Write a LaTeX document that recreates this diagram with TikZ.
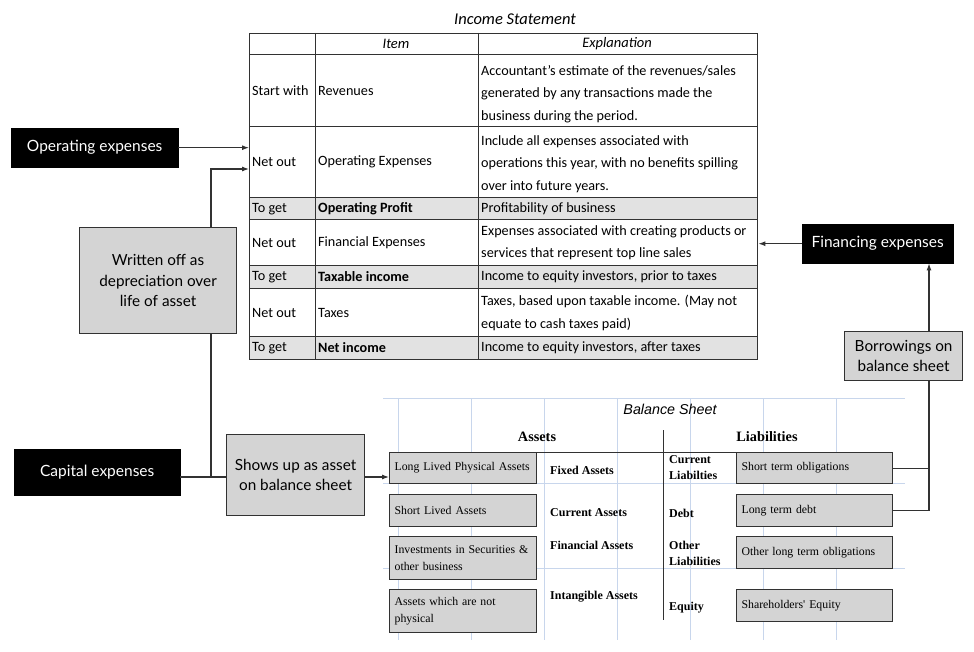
\documentclass[tikz,border=0pt]{standalone}
\usepackage{fontspec}
\setmainfont{Carlito}
\newfontfamily\boxfont{Lato}
\newfontfamily\bsfont{Liberation Serif}
\newfontfamily\bstitlefont{Liberation Sans}
\usetikzlibrary{arrows.meta}
\definecolor{boxgray}{RGB}{212,212,212}
\definecolor{rowgray}{RGB}{226,226,226}
\definecolor{edge}{RGB}{50,50,50}
\definecolor{gridblue}{RGB}{200,214,236}
\begin{document}
\begin{tikzpicture}[x=1pt,y=-1pt,
  arr/.style={-{Latex[length=7pt,width=5pt]}, draw=edge, line width=1.1pt},
  conn/.style={draw=edge, line width=1.1pt},
  blackbox/.style={fill=black, draw=black, text=white, font=\boxfont\fontsize{15.5}{18}\selectfont, inner sep=0pt, anchor=north west, align=center},
  graybox/.style={fill=boxgray, draw=edge, line width=1.2pt, font=\boxfont\fontsize{15.3}{20.5}\selectfont, inner sep=0pt, anchor=north west, align=center},
  bsbox/.style={fill=boxgray, draw=edge, line width=1.2pt, font=\bsfont\fontsize{11.8}{16.5}\selectfont, inner xsep=5pt, inner ysep=0pt, anchor=north west, align=left},
  bslab/.style={font=\bsfont\bfseries\fontsize{12}{16}\selectfont, inner sep=0pt, anchor=west, align=left},
  cell/.style={font=\fontsize{14.2}{22.3}\selectfont, inner sep=0pt, anchor=west, align=left},
  bcell/.style={cell, font=\bfseries\fontsize{14.2}{22.3}\selectfont},
  tline/.style={draw=edge, line width=1pt}
]
\useasboundingbox[fill=white] (0,0) rectangle (974,652);

% ---------------- Income statement ----------------
\node[font=\itshape\fontsize{16.5}{18}\selectfont, inner sep=0pt] (istitle) at (515,19) {Income Statement};
\fill[rowgray] (249,198) rectangle (757,220);
\fill[rowgray] (249,266) rectangle (757,288);
\fill[rowgray] (249,336) rectangle (757,359);
\foreach \yy in {55,127,198,220,266,288,336} {\draw[tline] (249,\yy) -- (757,\yy);}
\draw[tline] (315,33) -- (315,359);
\draw[tline] (478,33) -- (478,359);
\node[draw=edge, line width=1.4pt, minimum width=508pt, minimum height=326pt, inner sep=0pt, anchor=north west] (tbl) at (249,33) {};

\node[font=\itshape\fontsize{14.5}{16}\selectfont, inner sep=0pt] (hitem) at (396,44) {Item};
\node[font=\itshape\fontsize{14.5}{16}\selectfont, inner sep=0pt] (hexpl) at (617,44) {Explanation};

\node[cell] (c1a) at (252,91) {Start with};
\node[cell] (c2a) at (318,91) {Revenues};
\node[cell] (c3a) at (481,94) {Accountant's estimate of the revenues/sales\\generated by any transactions made the\\business during the period.};

\node[cell] (c1b) at (252,162) {Net out};
\node[cell] (c2b) at (318,162) {Operating Expenses};
\node[cell] (c3b) at (481,164) {Include all expenses associated with\\operations this year, with no benefits spilling\\over into future years.};

\node[cell] (c1c) at (252,209) {To get};
\node[bcell] (c2c) at (318,209) {Operating Profit};
\node[cell] (c3c) at (481,209) {Profitability of business};

\node[cell] (c1d) at (252,243) {Net out};
\node[cell] (c2d) at (318,243) {Financial Expenses};
\node[cell] (c3d) at (481,243) {Expenses associated with creating products or\\services that represent top line sales};

\node[cell] (c1e) at (252,277) {To get};
\node[bcell] (c2e) at (318,277) {Taxable income};
\node[cell] (c3e) at (481,277) {Income to equity investors, prior to taxes};

\node[cell] (c1f) at (252,313) {Net out};
\node[cell] (c2f) at (318,313) {Taxes};
\node[cell] (c3f) at (481,313) {Taxes, based upon taxable income. (May not\\equate to cash taxes paid)};

\node[cell] (c1g) at (252,348) {To get};
\node[bcell] (c2g) at (318,348) {Net income};
\node[cell] (c3g) at (481,348) {Income to equity investors, after taxes};

% ---------------- Balance sheet grid ----------------
\foreach \xx in {398,471,544,617,690,763,836} {\draw[gridblue, line width=0.8pt] (\xx,398) -- (\xx,640);}
\foreach \yy in {398,483,568} {\draw[gridblue, line width=0.8pt] (383,\yy) -- (905,\yy);}
\node[font=\bstitlefont\itshape\fontsize{14.3}{16}\selectfont, inner sep=0pt] (bstitle) at (670,409) {Balance Sheet};
\node[font=\bsfont\bfseries\fontsize{14.3}{16}\selectfont, inner sep=0pt] (assets) at (537,437) {Assets};
\node[font=\bsfont\bfseries\fontsize{14.3}{16}\selectfont, inner sep=0pt] (liabs) at (767,437) {Liabilities};
\draw[edge, line width=1pt] (663,430) -- (663,620);
\draw[edge, line width=1pt] (390,452) -- (892,452);

\node[bsbox, text width=137pt, minimum height=31pt] (ll) at (389,452) {\mbox{Long Lived Physical Assets}};
\node[bsbox, text width=137pt, minimum height=32pt] (sl) at (389,494) {\mbox{Short Lived Assets}};
\node[bsbox, text width=137pt, minimum height=43pt] (inv) at (389,536) {\mbox{Investments in Securities \&}\\\mbox{other business}};
\node[bsbox, text width=137pt, minimum height=43pt] (np) at (389,589) {\mbox{Assets which are not}\\\mbox{physical}};

\node[bsbox, text width=146pt, minimum height=31pt] (st) at (736,452) {\mbox{Short term obligations}};
\node[bsbox, text width=146pt, minimum height=32pt] (ltd) at (736,494) {\mbox{Long term debt}};
\node[bsbox, text width=146pt, minimum height=32pt] (olt) at (736,536) {\mbox{Other long term obligations}};
\node[bsbox, text width=146pt, minimum height=32pt] (she) at (736,589) {\mbox{Shareholders' Equity}};

\node[bslab] (fa) at (550,470) {Fixed Assets};
\node[bslab] (ca) at (550,513) {Current Assets};
\node[bslab] (fin) at (550,545) {Financial Assets};
\node[bslab] (ia) at (550,597) {Intangible Assets};
\node[bslab] (cl) at (669,468) {Current\\Liabilties};
\node[bslab] (dbt) at (669,513) {Debt};
\node[bslab] (ol) at (669,553) {Other\\Liabilities};
\node[bslab] (eq) at (669,608) {Equity};

% ---------------- Left side ----------------
\coordinate (j) at (211,477);
\coordinate (dep) at (249,169);
\draw[arr] (j) |- (dep);

\node[blackbox, minimum width=167pt, minimum height=39pt] (opx) at (11,128) {Operating expenses};
\draw[arr] (opx.east) -- (tbl.west |- opx.east);

\node[graybox, minimum width=157pt, minimum height=106pt] (wr) at (79,227) {Written off as\\depreciation over\\life of asset};

\node[blackbox, minimum width=166pt, minimum height=46pt] (cap) at (14,449) {Capital expenses};
\node[graybox, minimum width=138pt, minimum height=81pt, font=\boxfont\fontsize{15.3}{20}\selectfont] (shows) at (226,434) {Shows up as asset\\on balance sheet};
\draw[conn] (cap.east |- j) -- (shows.west |- j);
\draw[arr] (shows.east |- j) -- (ll.west |- j);

% ---------------- Right side ----------------
\node[blackbox, minimum width=151pt, minimum height=39pt] (finx) at (802,224) {Financing expenses};
\draw[arr] (finx.west) -- (tbl.east |- finx.west);

\coordinate (k) at (929,465);
\node[graybox, minimum width=118pt, minimum height=49pt, font=\boxfont\fontsize{15.3}{20}\selectfont] (bor) at (844,331) {Borrowings on\\balance sheet};
\draw[arr] (bor.north -| k) -- (finx.south -| k);
\draw[conn] (st.east) -- (st.east -| k);
\draw[conn] (ltd.east) -| (bor.south -| k);
\end{tikzpicture}
\end{document}
